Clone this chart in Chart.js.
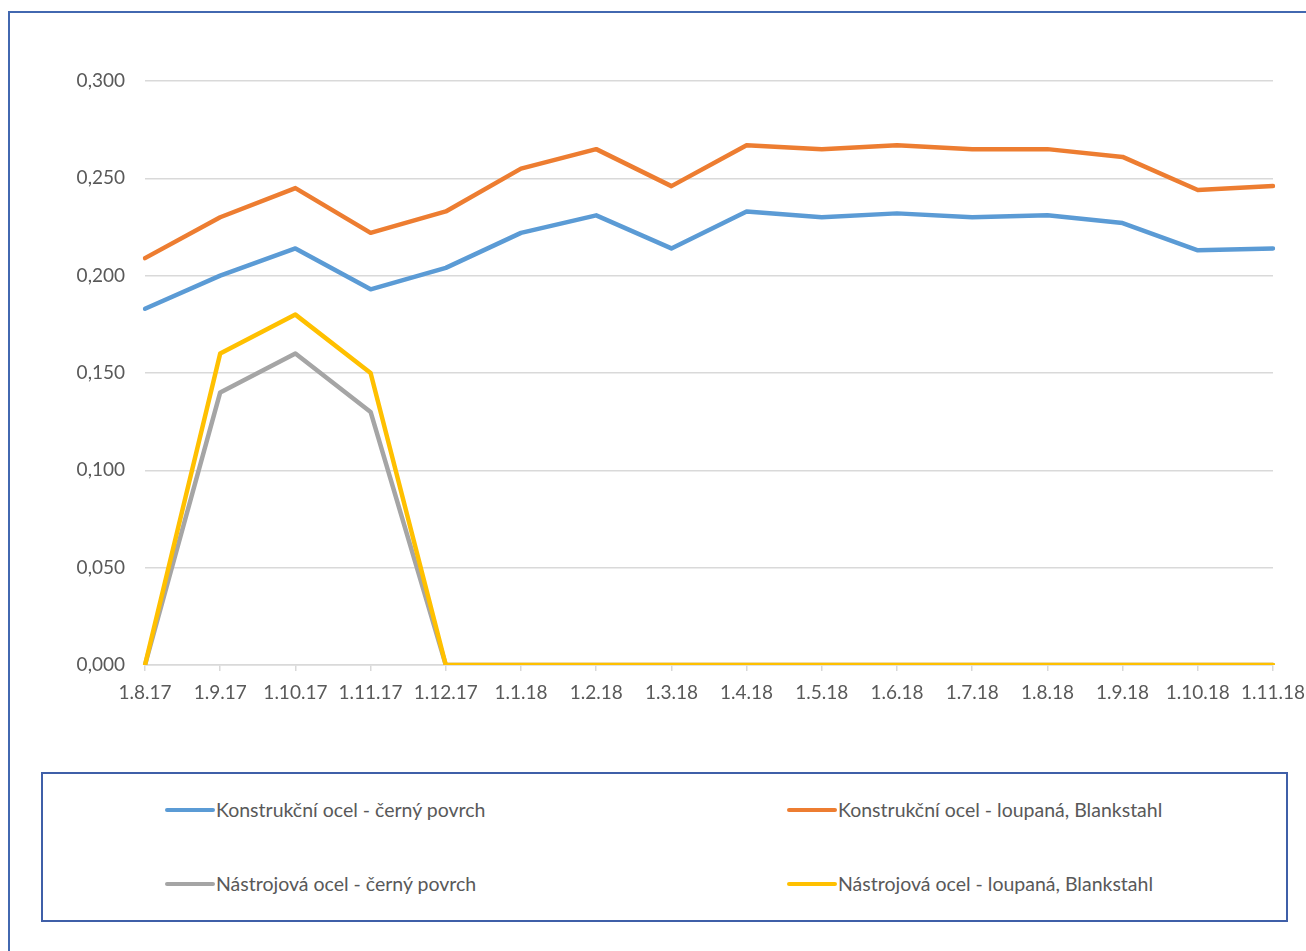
<!DOCTYPE html>
<html>
<head>
<meta charset="utf-8">
<script src="https://cdn.jsdelivr.net/npm/chart.js@4.4.1/dist/chart.umd.min.js"></script>
<style>
  html, body { margin: 0; padding: 0; background: #fff; }
  body { width: 1306px; height: 951px; position: relative; overflow: hidden;
         font-family: Lato, "Open Sans", sans-serif; }
  #frame { position: absolute; left: 8px; top: 11px; width: 1320px; height: 960px;
           border: 2px solid #4268B0; box-sizing: border-box; }
  #wrap { position: absolute; left: 0; top: 0; width: 1306px; height: 720px; }
  #legend { position: absolute; left: 41px; top: 772px; width: 1247px; height: 150px;
            border: 2px solid #3F5FA8; box-sizing: border-box; }
  .lg-item { position: absolute; display: flex; align-items: center;
             color: #595959; font-size: 19.5px; white-space: nowrap; }
  .lg-line { width: 50px; height: 4px; border-radius: 2px; margin-right: 1px; }
</style>
</head>
<body>
<div id="frame"></div>
<div id="wrap"><canvas id="chart"></canvas></div>
<div id="legend"></div>
<script>
  /* ── Data ── */
  const labels = ['1.8.17', '1.9.17', '1.10.17', '1.11.17', '1.12.17', '1.1.18', '1.2.18', '1.3.18',
                  '1.4.18', '1.5.18', '1.6.18', '1.7.18', '1.8.18', '1.9.18', '1.10.18', '1.11.18'];

  const konstrCerny   = [0.183, 0.200, 0.214, 0.193, 0.204, 0.222, 0.231, 0.214,
                         0.233, 0.230, 0.232, 0.230, 0.231, 0.227, 0.213, 0.214];
  const konstrLoupana = [0.209, 0.230, 0.245, 0.222, 0.233, 0.255, 0.265, 0.246,
                         0.267, 0.265, 0.267, 0.265, 0.265, 0.261, 0.244, 0.246];
  const nastrCerny    = [0, 0.140, 0.160, 0.130, 0, 0, 0, 0, 0, 0, 0, 0, 0, 0, 0, 0];
  const nastrLoupana  = [0, 0.160, 0.180, 0.150, 0, 0, 0, 0, 0, 0, 0, 0, 0, 0, 0, 0];

  const seriesNames  = ['Konstrukční ocel - černý povrch', 'Konstrukční ocel - loupaná, Blankstahl',
                        'Nástrojová ocel - černý povrch', 'Nástrojová ocel - loupaná, Blankstahl'];
  const seriesColors = ['#5B9BD5', '#ED7D31', '#A5A5A5', '#FFC000'];
  const seriesData   = [konstrCerny, konstrLoupana, nastrCerny, nastrLoupana];

  const TEXT = '#595959';
  const FONT = 'Lato, "Open Sans", sans-serif';

  /* ── Chart ── */
  const datasets = seriesData.map((d, i) => ({
    label: seriesNames[i],
    data: d,
    borderColor: seriesColors[i],
    backgroundColor: seriesColors[i],
    borderWidth: 4.5,
    pointRadius: 0,
    borderCapStyle: 'round',
    borderJoinStyle: 'round',
    tension: 0,
    order: seriesData.length - i   // later series drawn on top, like Excel
  }));

  new Chart(document.getElementById('chart'), {
    type: 'line',
    data: { labels, datasets },
    options: {
      responsive: true,
      maintainAspectRatio: false,
      animation: false,
      layout: { padding: { top: 81, right: 0, left: 0, bottom: 0 } },
      plugins: { legend: { display: false }, tooltip: { enabled: false } },
      scales: {
        x: {
          offset: false,
          border: { display: true, color: '#D9D9D9', width: 1.5 },
          grid: { drawOnChartArea: false, drawTicks: true, tickLength: 6, color: '#D9D9D9', lineWidth: 1.5 },
          ticks: { color: TEXT, font: { family: FONT, size: 19 }, padding: 10, maxRotation: 0, autoSkip: false },
          afterFit: s => { s.height = 55; s.paddingLeft = 0; s.paddingRight = 33; }
        },
        y: {
          min: 0, max: 0.3,
          border: { display: false },
          grid: { color: '#D9D9D9', lineWidth: 1.5, drawTicks: false },
          ticks: {
            stepSize: 0.05, padding: 20, color: TEXT, font: { family: FONT, size: 19 },
            callback: v => v.toFixed(3).replace('.', ',')
          },
          afterFit: s => { s.width = 145; }
        }
      }
    }
  });

  /* ── Legend (2 x 2 in boxed area) ── */
  const legend = document.getElementById('legend');
  const slots = [[122, 36], [744, 36], [122, 110], [744, 110]];
  seriesNames.forEach((name, i) => {
    const el = document.createElement('div');
    el.className = 'lg-item';
    el.style.left = slots[i][0] + 'px';
    el.style.top = (slots[i][1] - 12) + 'px';
    el.innerHTML = '<span class="lg-line" style="background:' + seriesColors[i] + '"></span>' + name;
    legend.appendChild(el);
  });
</script>
</body>
</html>
